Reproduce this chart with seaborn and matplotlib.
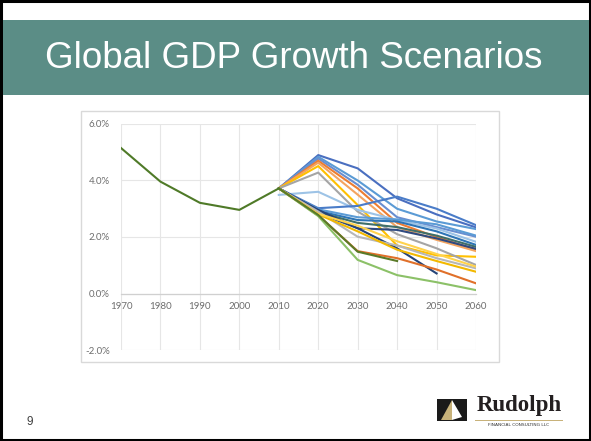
import numpy as np
import pandas as pd
import matplotlib
matplotlib.use("Agg")
import matplotlib.pyplot as plt
from matplotlib.patches import Rectangle, Polygon
import seaborn as sns

# ---------------- data (percent) ----------------
hist_years = [1970, 1980, 1990, 2000, 2010]
history = [5.15, 3.96, 3.21, 2.96, 3.72]

scen_years = [2010, 2020, 2030, 2040, 2050, 2060]
s_blue_top = [3.72, 4.90, 4.43, 3.37, 2.80, 2.34]
s_ltblue_hi = [3.72, 4.84, 4.00, 3.00, 2.55, 2.28]
s_blue_hi2 = [3.72, 4.78, 3.85, 2.70, 2.35, 2.01]
s_orange_hi = [3.72, 4.70, 3.72, 2.50, 2.00, 1.55]
s_ltorange_hi = [3.72, 4.63, 3.50, 2.35, 1.90, 1.50]
s_gold_hi = [3.72, 4.51, 3.13, 1.70, 1.35, 1.30]
s_gray_hi = [3.72, 4.28, 2.90, 2.10, 1.60, 1.01]
s_paleblue = [3.49, 3.60, 2.96, 2.60, 2.30, 1.83]
s_blue_rise = [3.72, 3.02, 3.10, 3.43, 3.00, 2.42]
s_blue_mid = [3.72, 2.98, 2.70, 2.62, 2.45, 2.05]
s_navy_fall = [3.72, 2.96, 2.31, 1.60, 0.71, np.nan]
s_steel = [3.72, 2.92, 2.60, 2.55, 2.20, 1.72]
s_teal = [3.72, 2.88, 2.50, 2.35, 2.05, 1.65]
s_navy_flat = [3.72, 2.85, 2.31, 2.25, 1.95, 1.58]
s_gray_lo = [3.72, 2.90, 2.01, 1.70, 1.25, 0.89]
s_gold_lo = [3.72, 2.80, 2.20, 1.55, 1.15, 0.77]
s_ltgold_lo = [3.72, 2.82, 2.40, 1.85, 1.40, 0.95]
s_orange_lo = [3.72, 2.76, 1.50, 1.25, 0.85, 0.36]
s_green_lo = [3.72, 2.74, 1.19, 0.65, 0.40, 0.12]
s_olive = [3.72, 2.78, 1.48, 1.15, np.nan, np.nan]

y_ticks = [-2.0, 0.0, 2.0, 4.0, 6.0]
x_ticks = [1970, 1980, 1990, 2000, 2010, 2020, 2030, 2040, 2050, 2060]

scenarios = {
    "blue_top": s_blue_top, "ltblue_hi": s_ltblue_hi, "blue_hi2": s_blue_hi2,
    "orange_hi": s_orange_hi, "ltorange_hi": s_ltorange_hi, "gold_hi": s_gold_hi,
    "gray_hi": s_gray_hi, "paleblue": s_paleblue, "blue_rise": s_blue_rise,
    "blue_mid": s_blue_mid, "steel": s_steel, "teal": s_teal,
    "navy_flat": s_navy_flat, "navy_fall": s_navy_fall, "gray_lo": s_gray_lo,
    "gold_lo": s_gold_lo, "ltgold_lo": s_ltgold_lo, "orange_lo": s_orange_lo,
    "green_lo": s_green_lo, "olive": s_olive,
}

colors = {
    "blue_top": "#4A6FC0", "ltblue_hi": "#5B9BD5", "blue_hi2": "#698ED0",
    "orange_hi": "#ED7D31", "ltorange_hi": "#F4A460", "gold_hi": "#FFC000",
    "gray_hi": "#A5A5A5", "paleblue": "#9DC3E6", "blue_rise": "#4A7CC8",
    "blue_mid": "#5B9BD5", "steel": "#2E75B6", "teal": "#3F6F6A",
    "navy_flat": "#2F4A80", "navy_fall": "#264478", "gray_lo": "#B7B7B7",
    "gold_lo": "#F2B800", "ltgold_lo": "#FFD34D", "orange_lo": "#E0702A",
    "green_lo": "#8CC168", "olive": "#5A7A28",
    "history": "#4F7A28",
}

rows = []
for name, vals in scenarios.items():
    for yr, v in zip(scen_years, vals):
        rows.append((name, yr, v))
for yr, v in zip(hist_years, history):
    rows.append(("history", yr, v))
df = pd.DataFrame(rows, columns=["series", "year", "value"]).dropna()

order = list(scenarios.keys()) + ["history"]

# ---------------- figure ----------------
W, H = 591, 441
fig = plt.figure(figsize=(W / 100, H / 100), dpi=100)
fig.patch.set_facecolor("white")

def fx(px):
    return px / W

def fy(py):
    return 1 - py / H

# slide border
fig.patches.append(Rectangle((fx(1), fy(440)), fx(589), 439 / H, transform=fig.transFigure,
                             fill=False, edgecolor="black", linewidth=2.2, zorder=0))
# title band
fig.patches.append(Rectangle((fx(3), fy(95)), fx(586), 75 / H, transform=fig.transFigure,
                             facecolor="#5B8D86", edgecolor="none", zorder=1))
fig.text(fx(294), fy(58), "Global GDP Growth Scenarios", color="white",
         fontsize=26.5, family="Liberation Sans", ha="center", va="center")

# chart frame
fig.patches.append(Rectangle((fx(81), fy(362)), fx(418), 251 / H, transform=fig.transFigure,
                             fill=False, edgecolor="#D9D9D9", linewidth=1.0, zorder=1))

ax = fig.add_axes([fx(121), fy(350), fx(355), 226 / H])
sns.lineplot(data=df, x="year", y="value", hue="series", hue_order=order,
             palette=colors, estimator=None, sort=False, legend=False,
             linewidth=1.5, ax=ax)

ax.set_xlim(1970, 2060)
ax.set_ylim(-2.0, 6.0)
ax.set_xticks(x_ticks)
ax.set_xticklabels([str(x) for x in x_ticks])
ax.set_yticks(y_ticks)
ax.set_yticklabels([f"{v:.1f}%" for v in y_ticks])
ax.set_xlabel("")
ax.set_ylabel("")
ax.grid(True, color="#E6E6E6", linewidth=0.8)
ax.set_axisbelow(True)
for s in ["top", "right", "left"]:
    ax.spines[s].set_visible(False)
ax.spines["bottom"].set_position(("data", 0))
ax.spines["bottom"].set_color("#D0D0D0")
ax.spines["bottom"].set_linewidth(0.9)
ax.tick_params(axis="both", length=0, labelsize=7, labelcolor="#6E6E6E")
ax.tick_params(axis="y", pad=8)
ax.tick_params(axis="x", pad=6)
for lab in ax.get_xticklabels() + ax.get_yticklabels():
    lab.set_family("Lato")

# page number
fig.text(fx(30), fy(422), "9", fontsize=8.5, color="#404040",
         family="Liberation Sans", ha="center", va="center")

# logo
fig.patches.append(Rectangle((fx(437), fy(421)), fx(30), 22 / H, transform=fig.transFigure,
                             facecolor="#1A1A1A", edgecolor="none", zorder=2))
fig.patches.append(Polygon([(fx(452), fy(400)), (fx(441), fy(420)), (fx(452), fy(420))],
                           closed=True, transform=fig.transFigure,
                           facecolor="#C8B27A", edgecolor="none", zorder=3))
fig.patches.append(Polygon([(fx(452), fy(400)), (fx(452), fy(420)), (fx(462), fy(417))],
                           closed=True, transform=fig.transFigure,
                           facecolor="white", edgecolor="none", zorder=3))
fig.text(fx(519), fy(405), "Rudolph", fontsize=16.5, color="#231F20",
         family="Liberation Serif", weight="bold", ha="center", va="center")
fig.patches.append(Rectangle((fx(475), fy(420.5)), fx(88), 0.8 / H, transform=fig.transFigure,
                             facecolor="#C8B27A", edgecolor="none", zorder=2))
fig.text(fx(519), fy(425), "FINANCIAL CONSULTING LLC", fontsize=3.2, color="#333333",
         family="DejaVu Sans", ha="center", va="center")

fig.savefig("out.png", dpi=100)
